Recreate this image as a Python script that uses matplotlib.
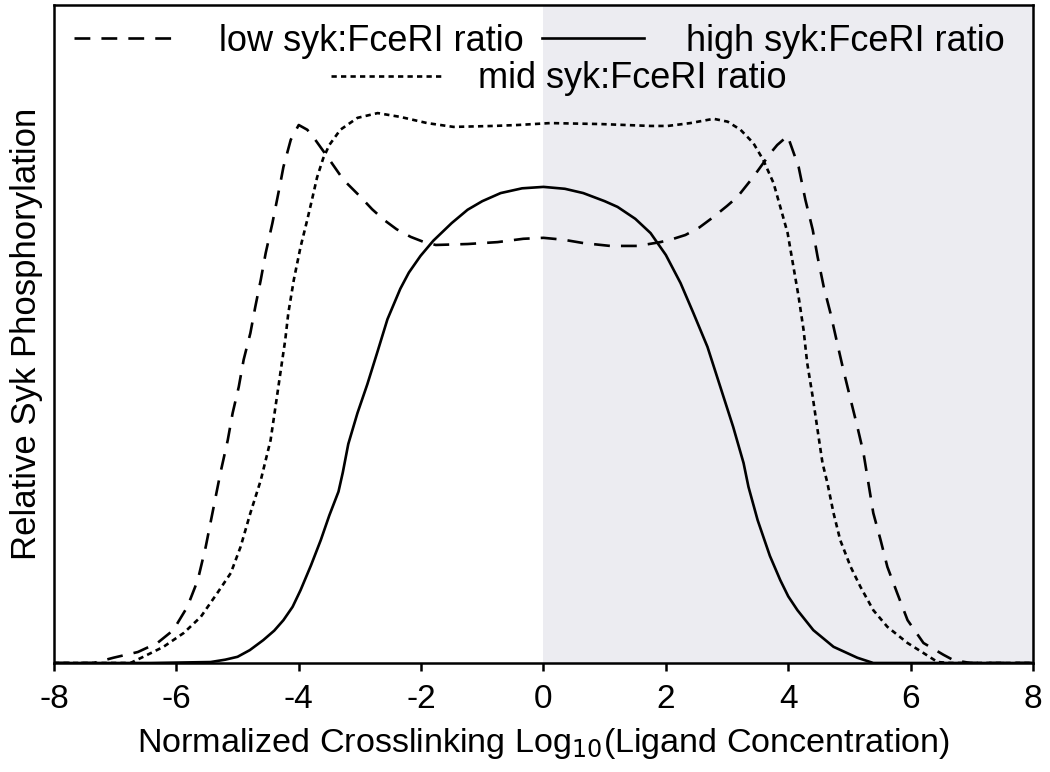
import matplotlib
matplotlib.use("Agg")
import matplotlib.pyplot as plt

plt.rcParams['font.family'] = ['Liberation Sans', 'DejaVu Sans']

# ---- data ----
low_x = [-8.0, -7.35, -7.03, -6.63, -6.31, -6.05, -5.82, -5.65, -5.52, -5.28, -5.16, -5.08,
         -4.98, -4.90, -4.79, -4.71, -4.62, -4.54, -4.43, -4.30, -4.25, -4.13, -4.0,
         -3.86, -3.73, -3.53, -3.27, -2.99, -2.80, -2.61, -2.40, -2.17, -1.95, -1.76, -1.24,
         -0.75, -0.33, 0.0,
         0.33, 0.65, 1.09, 1.54, 1.91, 2.10, 2.32, 2.55, 2.78, 3.00, 3.17, 3.43, 3.71, 3.82, 3.99,
         4.17, 4.28, 4.40, 4.48, 4.58, 4.69, 4.80, 4.90, 5.02, 5.13, 5.23, 5.31, 5.39,
         5.51, 5.62, 5.78, 5.95, 6.21, 6.54, 6.70, 6.98, 8.0]
low_y = [0.0, 0.0, 0.011, 0.023, 0.042, 0.069, 0.118, 0.174, 0.244, 0.399, 0.468, 0.525,
         0.580, 0.637, 0.693, 0.748, 0.805, 0.861, 0.924, 1.008, 1.042, 1.099, 1.130,
         1.120, 1.099, 1.063, 1.015, 0.979, 0.953, 0.931, 0.911, 0.895, 0.884, 0.878, 0.880,
         0.884, 0.891, 0.893,
         0.889, 0.882, 0.876, 0.876, 0.884, 0.890, 0.899, 0.915, 0.937, 0.960, 0.979, 1.021, 1.071, 1.088, 1.107,
         1.042, 0.973, 0.910, 0.853, 0.790, 0.735, 0.672, 0.616, 0.553, 0.496, 0.441, 0.378, 0.315,
         0.258, 0.202, 0.147, 0.090, 0.042, 0.017, 0.006, 0.0, 0.0]

mid_x = [-8.0, -6.91, -6.75, -6.54, -6.21, -5.88, -5.60, -5.33, -5.11, -4.95, -4.79, -4.62,
         -4.46, -4.38, -4.30, -4.22, -4.17, -4.08, -3.97, -3.86, -3.78, -3.70, -3.60, -3.50,
         -3.32, -3.04, -2.71, -2.34, -1.90, -1.47, -0.82, -0.42, 0.11, 0.93, 1.75, 2.03, 2.40, 2.78,
         3.01, 3.22, 3.43, 3.59, 3.76, 3.87, 3.99, 4.08, 4.17, 4.25, 4.31, 4.40, 4.48, 4.56,
         4.64, 4.74, 4.85, 5.02, 5.18, 5.39, 5.62, 5.95, 6.21, 6.44, 6.65, 8.0]
mid_y = [0.0, 0.0, 0.0, 0.013, 0.034, 0.063, 0.097, 0.147, 0.189, 0.244, 0.315, 0.384,
         0.468, 0.538, 0.609, 0.679, 0.735, 0.805, 0.874, 0.931, 0.975, 1.020, 1.060, 1.088,
         1.120, 1.145, 1.155, 1.147, 1.134, 1.126, 1.128, 1.130, 1.134, 1.132, 1.128, 1.128, 1.134, 1.143,
         1.137, 1.120, 1.092, 1.057, 1.008, 0.958, 0.903, 0.836, 0.769, 0.700, 0.630, 0.559, 0.489, 0.420,
         0.378, 0.315, 0.258, 0.202, 0.160, 0.111, 0.076, 0.042, 0.021, 0.002, 0.0, 0.0]

high_x = [-8.0, -6.42, -5.44, -5.20, -5.0, -4.80, -4.58, -4.40, -4.25, -4.10, -3.97, -3.80,
          -3.64, -3.50, -3.35, -3.28, -3.19, -3.04, -2.88, -2.71, -2.55, -2.34, -2.20, -2.01,
          -1.80, -1.50, -1.24, -1.00, -0.70, -0.35, 0.0, 0.35, 0.65, 1.00, 1.21, 1.50, 1.75,
          2.00, 2.24, 2.45, 2.68, 2.89, 3.10, 3.27, 3.35, 3.50, 3.70, 3.87, 4.00, 4.15, 4.41,
          4.74, 5.13, 5.39, 8.0]
high_y = [0.0, 0.0, 0.002, 0.007, 0.013, 0.027, 0.048, 0.068, 0.090, 0.118, 0.153, 0.205,
          0.258, 0.310, 0.360, 0.400, 0.460, 0.525, 0.585, 0.655, 0.722, 0.786, 0.820, 0.855,
          0.887, 0.924, 0.952, 0.970, 0.987, 0.997, 1.0, 0.996, 0.987, 0.970, 0.958, 0.933, 0.903,
          0.857, 0.798, 0.735, 0.664, 0.580, 0.496, 0.420, 0.370, 0.300, 0.225, 0.174, 0.140, 0.111, 0.069,
          0.034, 0.011, 0.0, 0.0]

xticks = [-8, -6, -4, -2, 0, 2, 4, 6, 8]
labels = ['low syk:FceRI ratio', 'high syk:FceRI ratio', 'mid syk:FceRI ratio']

# ---- figure ----
fig = plt.figure(figsize=(10.5, 7.72), dpi=100)
ax = fig.add_axes([0.0514, 0.1412, 0.9324, 0.8523])

ax.axvspan(0, 8, color='#ececf1', zorder=0, lw=0)

lw = 1.9
l_low, = ax.plot(low_x, low_y, color='black', lw=lw, ls=(0, (6.0, 4.2)), label=labels[0])
l_high, = ax.plot(high_x, high_y, color='black', lw=lw, ls='-', label=labels[1])
l_mid, = ax.plot(mid_x, mid_y, color='black', lw=lw, ls=(0, (2.0, 1.6)), label=labels[2])

ax.set_xlim(-8, 8)
ax.set_ylim(0, 1.382)
ax.set_xticks(xticks)
ax.set_xticklabels([str(t) for t in xticks])
ax.set_yticks([])
ax.tick_params(axis='x', direction='out', length=6, width=1.8, labelsize=24, pad=9)
for s in ax.spines.values():
    s.set_linewidth(1.8)

ax.set_xlabel('Normalized Crosslinking Log$_{10}$(Ligand Concentration)', fontsize=24.6, labelpad=8)
ax.set_ylabel('Relative Syk Phosphorylation', fontsize=25, labelpad=8)

fs_leg = 26
leg1 = ax.legend([l_low, l_high], labels[:2], ncol=2, loc='center',
                 bbox_to_anchor=(0.496, 0.945), frameon=False, fontsize=fs_leg,
                 handlelength=2.83, handletextpad=1.17, columnspacing=0.5, borderpad=0,
                 borderaxespad=0)
ax.add_artist(leg1)
ax.legend([l_mid], labels[2:], loc='center', bbox_to_anchor=(0.516, 0.888), frameon=False,
          fontsize=fs_leg, handlelength=3.1, handletextpad=0.97, borderpad=0, borderaxespad=0)

fig.savefig('out.png', dpi=100)
